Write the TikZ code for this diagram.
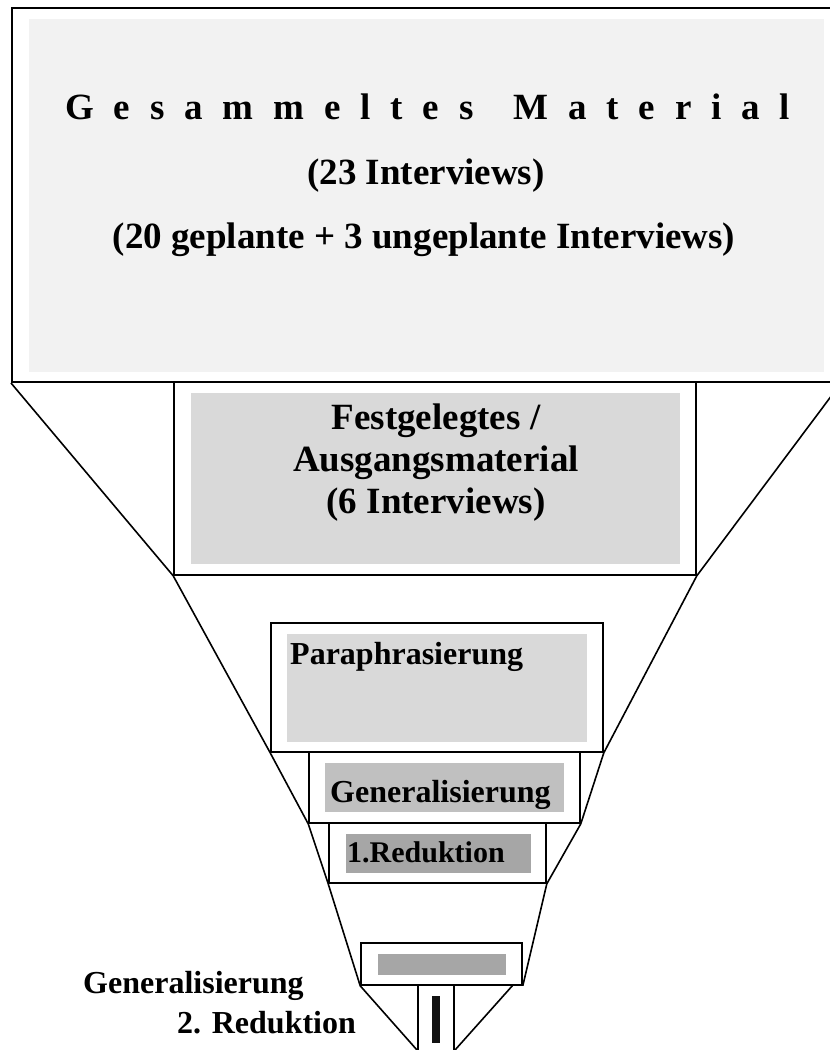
\documentclass[tikz,border=0pt]{standalone}
\usepackage{fontspec}
\setmainfont{Liberation Serif}
\usetikzlibrary{fit}
\definecolor{paleGray}{HTML}{F2F2F2}
\definecolor{lightGray}{HTML}{D9D9D9}
\definecolor{midGray}{HTML}{C0C0C0}
\definecolor{darkGray}{HTML}{A6A6A6}

\begin{document}
\begin{tikzpicture}[x=1pt, y=-1pt,
        frame/.style={draw, line width=1.6pt, inner sep=0pt},
        panel/.style={inner sep=0pt},
        headfont/.style={font=\fontsize{37}{43}\selectfont\bfseries, inner sep=0pt},
        stepfont/.style={font=\fontsize{32}{38}\selectfont\bfseries, inner sep=0pt}]
        \useasboundingbox (0,0) rectangle (830,1050);
        \clip (0,0) rectangle (830,1050);

        % frames of the funnel stages
        \node[frame, line width=2pt, fit={(12,8) (840,382)}] (top) {};
        \node[frame, fit={(174,382) (696,575)}] (fest) {};
        \node[frame, fit={(271,623) (603,752)}] (para) {};
        \node[frame, fit={(309,752) (580,823)}] (gen) {};
        \node[frame, fit={(329,823) (546,883)}] (red) {};
        \node[frame, fit={(361,943) (522,985)}] (last) {};
        \node[frame, fit={(418,985) (454,1070)}] (stem) {};

        % grey panels
        \node[panel, fill=paleGray, fit={(29,19) (824,372)}] (topP) {};
        \node[panel, fill=lightGray, fit={(191,393) (680,564)}] (festP) {};
        \node[panel, fill=lightGray, fit={(287,634) (587,742)}] (paraP) {};
        \node[panel, fill=midGray, fit={(325,763) (564,812)}] (genP) {};
        \node[panel, fill=darkGray, fit={(346,834) (531,873)}] (redP) {};
        \node[panel, fill=darkGray, fit={(378,954) (506,975)}] (lastP) {};
        \node[panel, fill=black!93, fit={(432,996) (440,1043)}] (bar) {};

        % funnel sides
        \coordinate (tipL) at (417,1050);
        \coordinate (tipR) at (455,1050);
        \coordinate (lastR) at (513,985);
        \draw[line width=1.6pt] (top.south west) -- (fest.south west) -- (para.south west)
            -- (gen.south west) -- (red.south west) -- (last.south west) -- (tipL);
        \draw[line width=1.6pt] (top.south east) -- (fest.south east) -- (para.south east)
            -- (gen.south east) -- (red.south east) -- (last.south east);
        \draw[line width=1.6pt] (lastR) -- (tipR);

        % texts
        \node[headfont, anchor=base west] (title) at (65,119)
            {\hbox to 725pt{G\hfill e\hfill s\hfill a\hfill m\hfill m\hfill e\hfill l\hfill t\hfill e\hfill s\hfill\hfill M\hfill a\hfill t\hfill e\hfill r\hfill i\hfill a\hfill l}};
        \node[headfont, anchor=base] (count) at (426,184) {(23 Interviews)};
        \node[headfont, anchor=base] (split) at (424,248) {(20 geplante + 3 ungeplante Interviews)};

        \node[headfont, anchor=base] (fest1) at (436,429) {Festgelegtes /};
        \node[headfont, anchor=base] (fest2) at (436,471) {Ausgangsmaterial};
        \node[headfont, anchor=base] (fest3) at (436,513) {(6 Interviews)};

        \node[stepfont, anchor=base west] (paraT) at (290,664) {Paraphrasierung};
        \node[stepfont, anchor=base west] (genT) at (330,802) {Generalisierung};
        \node[stepfont, font=\fontsize{30}{36}\selectfont\bfseries, anchor=base west] (redT) at (347,862) {1.Reduktion};

        \node[stepfont, anchor=base west] (gen2T) at (83,993) {Generalisierung};
        \node[stepfont, anchor=base west] (red2T) at (177,1033) {2. Reduktion};
    \end{tikzpicture}
\end{document}
